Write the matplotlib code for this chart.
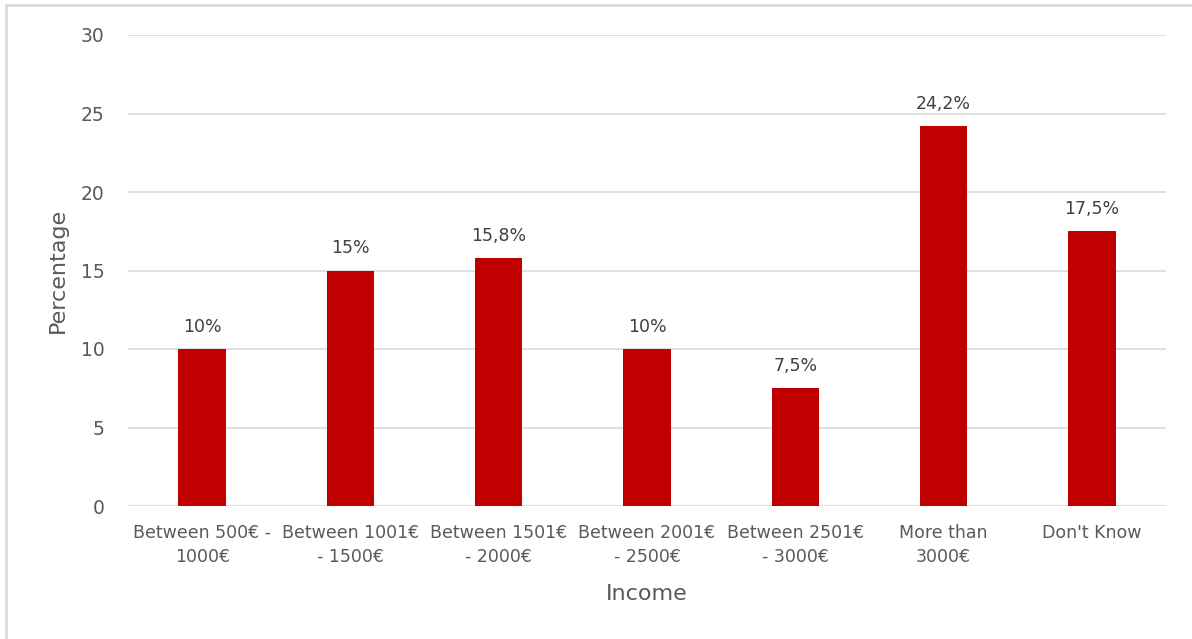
import matplotlib.pyplot as plt
from matplotlib.patches import Rectangle

# income brackets and share of respondents (%)
categories = ["Between 500€ -\n1000€", "Between 1001€\n- 1500€", "Between 1501€\n- 2000€",
              "Between 2001€\n- 2500€", "Between 2501€\n- 3000€", "More than\n3000€", "Don't Know"]
values = [10, 15, 15.8, 10, 7.5, 24.2, 17.5]
value_labels = ["10%", "15%", "15,8%", "10%", "7,5%", "24,2%", "17,5%"]
yticks = [0, 5, 10, 15, 20, 25, 30]

plt.rcParams['font.family'] = ['DejaVu Sans']
text_color = '#595959'

fig = plt.figure(figsize=(11.92, 6.39), dpi=100)
ax = fig.add_axes([128 / 1192, 1 - 506 / 639, 1038 / 1192, 471 / 639])

# outer chart border
fig.patches.append(Rectangle((6 / 1192, -0.1), 1.2, (639 - 5) / 639 + 0.1,
                             transform=fig.transFigure, fill=False,
                             edgecolor='#d9d9d9', linewidth=2))

x = range(len(categories))
bars = ax.bar(x, values, width=0.32, color='#c00000', zorder=3)

for b, lab in zip(bars, value_labels):
    ax.text(b.get_x() + b.get_width() / 2, b.get_height() + 0.85, lab,
            ha='center', va='bottom', fontsize=12.5, color='#404040')

ax.set_xlim(-0.5, len(categories) - 0.5)
ax.set_ylim(0, 30)
ax.set_yticks(yticks)
ax.set_xticks(list(x))
ax.set_xticklabels(categories, fontsize=12.5, color=text_color, linespacing=1.4)
ax.tick_params(axis='y', labelsize=13.5, labelcolor=text_color, length=0, pad=17)
ax.tick_params(axis='x', length=0, pad=13)

ax.grid(axis='y', color='#d9d9d9', linewidth=1.2, zorder=0)
for s in ax.spines.values():
    s.set_visible(False)

ax.set_xlabel('Income', fontsize=16, color=text_color, labelpad=13)
ax.set_ylabel('Percentage', fontsize=16, color=text_color, labelpad=9)

fig.savefig('out.png', dpi=100)
